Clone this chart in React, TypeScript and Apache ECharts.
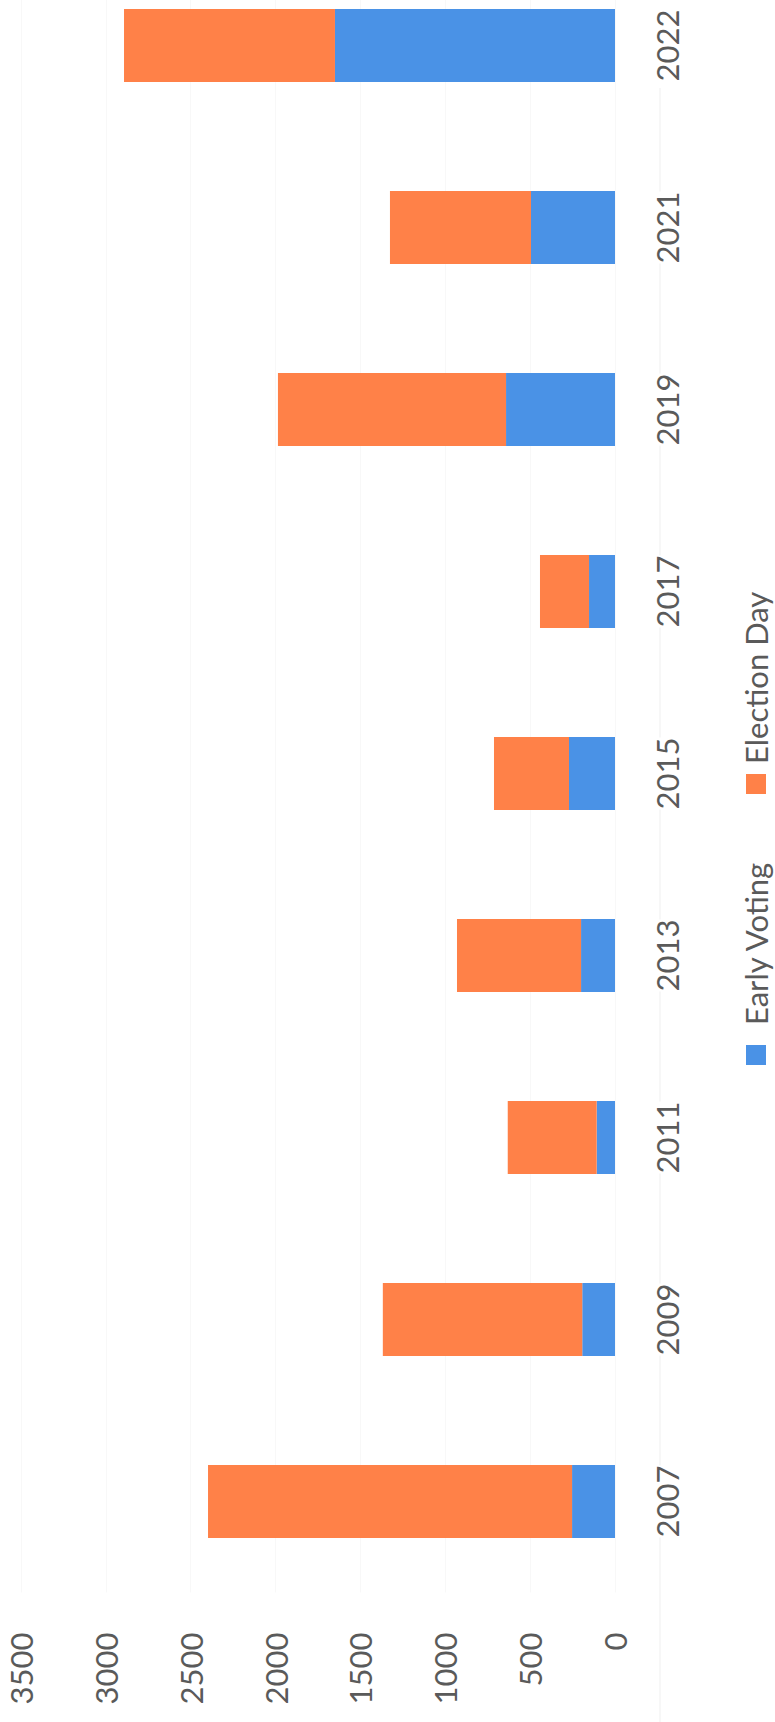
import React, { useEffect, useRef } from "react";
import * as echarts from "echarts";

const years = ["2007", "2009", "2011", "2013", "2015", "2017", "2019", "2021", "2022"];
const earlyVoting = [253, 193, 108, 200, 271, 153, 642, 495, 1650];
const electionDay = [2145, 1175, 524, 731, 442, 289, 1344, 831, 1243];
const seriesNames = ["Early Voting", "Election Day"];
const seriesColors = ["#4a92e6", "#ff8148"];
const valueMin = 0;
const valueMax = 3500;
const valueStep = 500;

const FONT = "Lato, 'Open Sans', sans-serif";
const TEXT_COLOR = "#5a5a5a";
const SHIFT = 46; // chart is drawn taller and shifted up; the top band is cropped

export default function App() {
  const ref = useRef<HTMLDivElement>(null);
  useEffect(() => {
    document.body.style.margin = "0";
    document.body.style.overflow = "hidden";
    const chart = echarts.init(ref.current!, null, { renderer: "svg" });
    const legendItems = [
      { name: seriesNames[0], color: seriesColors[0], markerY: 1045, textY: 1025 },
      { name: seriesNames[1], color: seriesColors[1], markerY: 774, textY: 764 },
    ];
    const graphic: any[] = [
      {
        type: "line",
        z: -1,
        shape: { x1: 660, y1: 88 + SHIFT, x2: 660, y2: 1722 + SHIFT },
        style: { stroke: "#efefef", lineWidth: 1 },
        silent: true,
      },
    ];
    legendItems.forEach((it) => {
      graphic.push({
        type: "rect",
        shape: { x: 746, y: it.markerY + SHIFT, width: 20, height: 20 },
        style: { fill: it.color },
      });
      graphic.push({
        type: "text",
        x: 756,
        y: it.textY + SHIFT,
        rotation: Math.PI / 2,
        style: {
          text: it.name,
          fill: TEXT_COLOR,
          font: `31px ${FONT}`,
          textAlign: "left",
          textVerticalAlign: "middle",
        },
      });
    });
    chart.setOption({
      animation: false,
      backgroundColor: "#ffffff",
      legend: { show: false, data: seriesNames },
      grid: { left: 21, right: 160, top: 0.5, bottom: 129.5, containLabel: false },
      xAxis: {
        type: "value",
        inverse: true,
        min: valueMin,
        max: valueMax,
        interval: valueStep,
        position: "bottom",
        axisLine: { show: false },
        axisTick: { show: false },
        splitLine: { show: true, lineStyle: { color: "#f8f8f8", width: 1 } },
        axisLabel: {
          rotate: 90,
          margin: 40,
          fontSize: 31,
          fontFamily: FONT,
          color: TEXT_COLOR,
          formatter: (v: number) => String(v),
        },
      },
      yAxis: {
        type: "category",
        data: years,
        position: "right",
        axisLine: { show: false },
        axisTick: { show: false },
        splitLine: { show: false },
        axisLabel: {
          rotate: 90,
          margin: 36,
          fontSize: 31,
          fontFamily: FONT,
          color: TEXT_COLOR,
          backgroundColor: "#ffffff",
        },
      },
      series: [
        {
          name: seriesNames[0],
          type: "bar",
          stack: "total",
          data: earlyVoting,
          itemStyle: { color: seriesColors[0] },
          barCategoryGap: "60%",
        },
        {
          name: seriesNames[1],
          type: "bar",
          stack: "total",
          data: electionDay,
          itemStyle: { color: seriesColors[1] },
          barCategoryGap: "60%",
        },
      ],
      graphic,
    });
    return () => chart.dispose();
  }, []);
  return (
    <div style={{ width: 775, height: 1722, overflow: "hidden", position: "relative" }}>
      <div ref={ref} style={{ width: 775, height: 1722 + SHIFT, position: "absolute", left: 0, top: -SHIFT }} />
    </div>
  );
}
